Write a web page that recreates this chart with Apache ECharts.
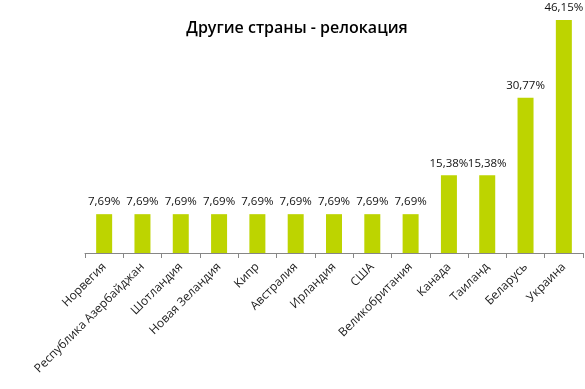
<!DOCTYPE html>
<html><head><meta charset="utf-8">
<script src="https://cdn.jsdelivr.net/npm/echarts@6/dist/echarts.min.js"></script>
<style>html,body{margin:0;padding:0;background:#fff}#c{width:585px;height:389px}</style>
</head><body><div id="c"></div>
<script>
const categories = ['Норвегия','Республика Азербайджан','Шотландия','Новая Зеландия','Кипр','Австралия','Ирландия','США','Великобритания','Канада','Таиланд','Беларусь','Украина'];
const values = [7.69,7.69,7.69,7.69,7.69,7.69,7.69,7.69,7.69,15.38,15.38,30.77,46.15];
const titleText = 'Другие страны - релокация';

const chart = echarts.init(document.getElementById('c'));
chart.setOption({
  animation:false,
  title:{text:titleText,left:292,textAlign:'center',top:15,textStyle:{fontFamily:'Open Sans',fontSize:16,fontWeight:600,color:'#000'}},
  grid:{left:85,right:2,top:20,bottom:136,containLabel:false},
  xAxis:{type:'category',data:categories,
    axisLine:{lineStyle:{color:'#868686',width:1}},
    axisTick:{show:true,alignWithLabel:false,length:5,lineStyle:{color:'#868686'}},
    axisLabel:{rotate:45,interval:0,fontFamily:'Open Sans',fontSize:12,color:'#222',margin:12}},
  yAxis:{type:'value',min:0,max:46.15,show:false,splitLine:{show:false}},
  series:[{type:'bar',data:values,barWidth:16,itemStyle:{color:'#bdd400'},
    label:{show:true,position:'top',distance:6,fontFamily:'Open Sans',fontSize:11.5,color:'#111',
      formatter:p=>p.value.toFixed(2).replace('.',',')+'%'}}]
});
</script></body></html>
